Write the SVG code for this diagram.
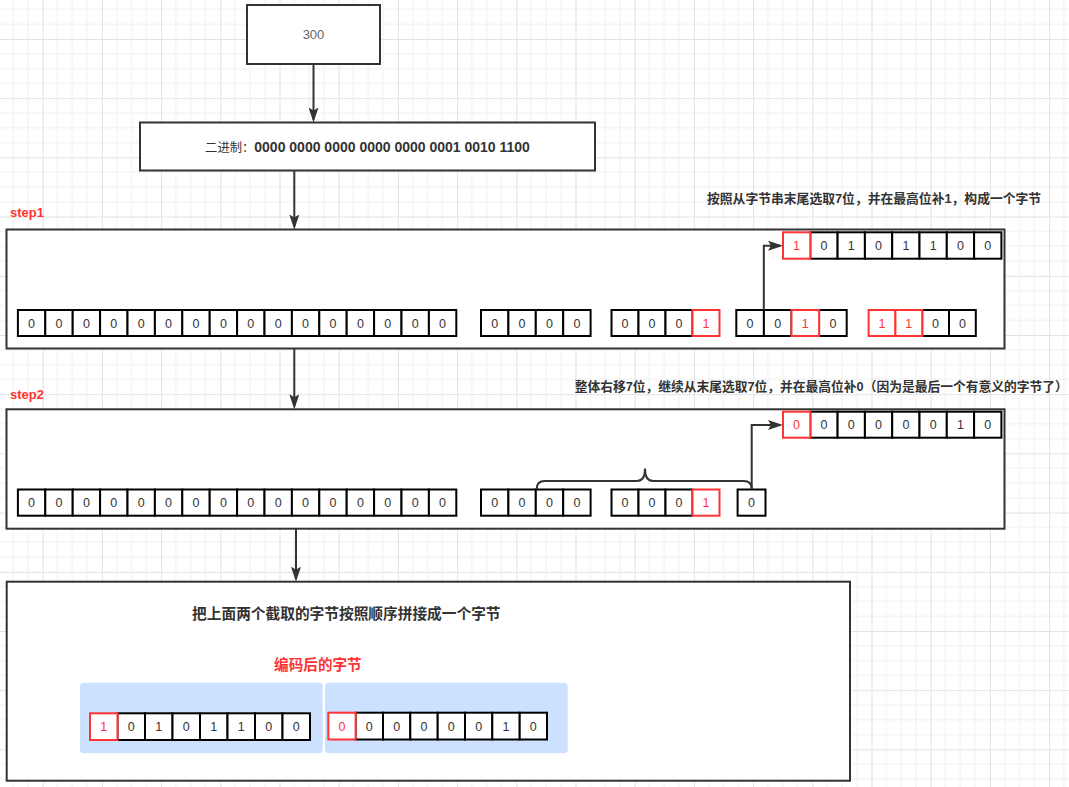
<svg xmlns="http://www.w3.org/2000/svg" width="1069" height="787" viewBox="0 0 1069 787">
<defs>
<style>
.box{fill:#fff;stroke:#333;stroke-width:2}
.c{fill:#fff;stroke:#000;stroke-width:2}
.r{fill:#fff;stroke:#ff3333;stroke-width:2}
.t{font-family:"Liberation Sans","Noto Sans CJK SC",sans-serif;font-size:12.5px;fill:#333;text-anchor:middle}
.tr{font-family:"Liberation Sans","Noto Sans CJK SC",sans-serif;font-size:12.5px;fill:#ff3333;text-anchor:middle}
.lbl{font-family:"Liberation Sans","Noto Sans CJK SC",sans-serif;font-weight:bold;fill:#333}
.step{font-family:"Liberation Sans",sans-serif;font-weight:bold;font-size:13px;fill:#ff3333}
.ln{fill:none;stroke:#333;stroke-width:2}
.panel{fill:#cce0ff}
</style>
<pattern id="grid" x="42.7" y="39" width="59.2" height="59.2" patternUnits="userSpaceOnUse">
<path d="M14.8,0 V59.2 M29.6,0 V59.2 M44.4,0 V59.2 M0,14.8 H59.2 M0,29.6 H59.2 M0,44.4 H59.2" stroke="#efefef" stroke-width="1" fill="none"/>
<path d="M0.5,0 V59.2 M0,0.5 H59.2" stroke="#e2e2e2" stroke-width="1" fill="none"/>
</pattern>
<marker id="ah" markerWidth="15" markerHeight="10" refX="12" refY="5" orient="auto" markerUnits="userSpaceOnUse">
<path d="M0,0 L15,5 L0,10 L3,5 z" fill="#333"/>
</marker>
</defs>
<rect x="0" y="0" width="1069" height="787" fill="#fff"/>
<rect x="0" y="0" width="1069" height="787" fill="url(#grid)"/>

<g id="node-300">
<rect class="box" x="247" y="5" width="133" height="59"/>
<text x="313.5" y="39" font-family="Liberation Sans, sans-serif" font-size="13" fill="#666" text-anchor="middle">300</text>
</g>

<g id="node-binary">
<rect class="box" x="140" y="122.5" width="455" height="48"/>
<text x="367.5" y="151.5" text-anchor="middle" class="lbl"><tspan font-size="12.3" font-weight="normal">二进制：</tspan><tspan font-size="14">0000 0000 0000 0000 0000 0001 0010 1100</tspan></text>
</g>

<g id="label-step1">
<text class="step" x="10" y="216.5">step1</text>
<text class="lbl" x="707" y="203" font-size="12.8">按照从字节串末尾选取7位，并在最高位补1，构成一个字节</text>
</g>

<g id="node-step1">
<rect class="box" x="6.5" y="229.5" width="998" height="119"/>
<g>
<rect class="c" x="810.3" y="232.3" width="27.3" height="26.4"/><rect class="c" x="837.6" y="232.3" width="27.3" height="26.4"/><rect class="c" x="864.9" y="232.3" width="27.3" height="26.4"/><rect class="c" x="892.2" y="232.3" width="27.3" height="26.4"/><rect class="c" x="919.5" y="232.3" width="27.3" height="26.4"/><rect class="c" x="946.8" y="232.3" width="27.3" height="26.4"/><rect class="c" x="974.1" y="232.3" width="27.3" height="26.4"/>
<rect class="r" x="783" y="232.3" width="27.3" height="26.4"/>
<text class="tr" x="796.6" y="250">1</text><text class="t" x="824" y="250">0</text><text class="t" x="851.3" y="250">1</text><text class="t" x="878.6" y="250">0</text><text class="t" x="905.9" y="250">1</text><text class="t" x="933.2" y="250">1</text><text class="t" x="960.5" y="250">0</text><text class="t" x="987.8" y="250">0</text>
</g>
<g>
<rect class="c" x="17.9" y="310" width="27.4" height="26"/><rect class="c" x="45.3" y="310" width="27.4" height="26"/><rect class="c" x="72.7" y="310" width="27.4" height="26"/><rect class="c" x="100.1" y="310" width="27.4" height="26"/><rect class="c" x="127.5" y="310" width="27.4" height="26"/><rect class="c" x="154.9" y="310" width="27.4" height="26"/><rect class="c" x="182.3" y="310" width="27.4" height="26"/><rect class="c" x="209.7" y="310" width="27.4" height="26"/><rect class="c" x="237.1" y="310" width="27.4" height="26"/><rect class="c" x="264.5" y="310" width="27.4" height="26"/><rect class="c" x="291.9" y="310" width="27.4" height="26"/><rect class="c" x="319.3" y="310" width="27.4" height="26"/><rect class="c" x="346.7" y="310" width="27.4" height="26"/><rect class="c" x="374.1" y="310" width="27.4" height="26"/><rect class="c" x="401.5" y="310" width="27.4" height="26"/><rect class="c" x="428.9" y="310" width="27.4" height="26"/>
<text class="t" x="31.6" y="327.5">0</text><text class="t" x="59" y="327.5">0</text><text class="t" x="86.4" y="327.5">0</text><text class="t" x="113.8" y="327.5">0</text><text class="t" x="141.2" y="327.5">0</text><text class="t" x="168.6" y="327.5">0</text><text class="t" x="196" y="327.5">0</text><text class="t" x="223.4" y="327.5">0</text><text class="t" x="250.8" y="327.5">0</text><text class="t" x="278.2" y="327.5">0</text><text class="t" x="305.6" y="327.5">0</text><text class="t" x="333" y="327.5">0</text><text class="t" x="360.4" y="327.5">0</text><text class="t" x="387.8" y="327.5">0</text><text class="t" x="415.2" y="327.5">0</text><text class="t" x="442.6" y="327.5">0</text>
</g>
<g>
<rect class="c" x="481" y="310" width="27.4" height="26"/><rect class="c" x="508.4" y="310" width="27.4" height="26"/><rect class="c" x="535.8" y="310" width="27.4" height="26"/><rect class="c" x="563.2" y="310" width="27.4" height="26"/>
<text class="t" x="494.7" y="327.5">0</text><text class="t" x="522.1" y="327.5">0</text><text class="t" x="549.5" y="327.5">0</text><text class="t" x="576.9" y="327.5">0</text>
</g>
<g>
<rect class="c" x="611.5" y="310" width="27" height="26"/><rect class="c" x="638.5" y="310" width="27" height="26"/><rect class="c" x="665.5" y="310" width="27" height="26"/>
<rect class="r" x="692.5" y="310" width="27" height="26"/>
<text class="t" x="625" y="327.5">0</text><text class="t" x="652" y="327.5">0</text><text class="t" x="679" y="327.5">0</text><text class="tr" x="706" y="327.5">1</text>
</g>
<g>
<rect class="c" x="736.3" y="310" width="27.6" height="26"/><rect class="c" x="763.9" y="310" width="27.6" height="26"/><rect class="c" x="819.1" y="310" width="27.6" height="26"/>
<rect class="r" x="791.5" y="310" width="27.6" height="26"/>
<text class="t" x="750.1" y="327.5">0</text><text class="t" x="777.7" y="327.5">0</text><text class="tr" x="805.3" y="327.5">1</text><text class="t" x="832.9" y="327.5">0</text>
</g>
<g>
<rect class="c" x="922.2" y="310" width="26.8" height="26"/><rect class="c" x="949" y="310" width="26.8" height="26"/>
<rect class="r" x="868.6" y="310" width="26.8" height="26"/><rect class="r" x="895.4" y="310" width="26.8" height="26"/>
<text class="tr" x="882" y="327.5">1</text><text class="tr" x="908.8" y="327.5">1</text><text class="t" x="935.6" y="327.5">0</text><text class="t" x="962.4" y="327.5">0</text>
</g>
</g>

<g id="label-step2">
<text class="step" x="10" y="399">step2</text>
<text class="lbl" x="574.7" y="390.5" font-size="12.75">整体右移7位，继续从末尾选取7位，并在最高位补0（因为是最后一个有意义的字节了）</text>
</g>

<g id="node-step2">
<rect class="box" x="6.5" y="409.3" width="998" height="119.4"/>
<g>
<rect class="c" x="810.3" y="411.7" width="27.3" height="26"/><rect class="c" x="837.6" y="411.7" width="27.3" height="26"/><rect class="c" x="864.9" y="411.7" width="27.3" height="26"/><rect class="c" x="892.2" y="411.7" width="27.3" height="26"/><rect class="c" x="919.5" y="411.7" width="27.3" height="26"/><rect class="c" x="946.8" y="411.7" width="27.3" height="26"/><rect class="c" x="974.1" y="411.7" width="27.3" height="26"/>
<rect class="r" x="783" y="411.7" width="27.3" height="26"/>
<text class="tr" x="796.6" y="429.2">0</text><text class="t" x="824" y="429.2">0</text><text class="t" x="851.3" y="429.2">0</text><text class="t" x="878.6" y="429.2">0</text><text class="t" x="905.9" y="429.2">0</text><text class="t" x="933.2" y="429.2">0</text><text class="t" x="960.5" y="429.2">1</text><text class="t" x="987.8" y="429.2">0</text>
</g>
<g>
<rect class="c" x="17.9" y="489.5" width="27.4" height="26.2"/><rect class="c" x="45.3" y="489.5" width="27.4" height="26.2"/><rect class="c" x="72.7" y="489.5" width="27.4" height="26.2"/><rect class="c" x="100.1" y="489.5" width="27.4" height="26.2"/><rect class="c" x="127.5" y="489.5" width="27.4" height="26.2"/><rect class="c" x="154.9" y="489.5" width="27.4" height="26.2"/><rect class="c" x="182.3" y="489.5" width="27.4" height="26.2"/><rect class="c" x="209.7" y="489.5" width="27.4" height="26.2"/><rect class="c" x="237.1" y="489.5" width="27.4" height="26.2"/><rect class="c" x="264.5" y="489.5" width="27.4" height="26.2"/><rect class="c" x="291.9" y="489.5" width="27.4" height="26.2"/><rect class="c" x="319.3" y="489.5" width="27.4" height="26.2"/><rect class="c" x="346.7" y="489.5" width="27.4" height="26.2"/><rect class="c" x="374.1" y="489.5" width="27.4" height="26.2"/><rect class="c" x="401.5" y="489.5" width="27.4" height="26.2"/><rect class="c" x="428.9" y="489.5" width="27.4" height="26.2"/>
<text class="t" x="31.6" y="507">0</text><text class="t" x="59" y="507">0</text><text class="t" x="86.4" y="507">0</text><text class="t" x="113.8" y="507">0</text><text class="t" x="141.2" y="507">0</text><text class="t" x="168.6" y="507">0</text><text class="t" x="196" y="507">0</text><text class="t" x="223.4" y="507">0</text><text class="t" x="250.8" y="507">0</text><text class="t" x="278.2" y="507">0</text><text class="t" x="305.6" y="507">0</text><text class="t" x="333" y="507">0</text><text class="t" x="360.4" y="507">0</text><text class="t" x="387.8" y="507">0</text><text class="t" x="415.2" y="507">0</text><text class="t" x="442.6" y="507">0</text>
</g>
<g>
<rect class="c" x="481" y="489.5" width="27.4" height="26.2"/><rect class="c" x="508.4" y="489.5" width="27.4" height="26.2"/><rect class="c" x="535.8" y="489.5" width="27.4" height="26.2"/><rect class="c" x="563.2" y="489.5" width="27.4" height="26.2"/>
<text class="t" x="494.7" y="507">0</text><text class="t" x="522.1" y="507">0</text><text class="t" x="549.5" y="507">0</text><text class="t" x="576.9" y="507">0</text>
</g>
<g>
<rect class="c" x="611.5" y="489.5" width="27" height="26.2"/><rect class="c" x="638.5" y="489.5" width="27" height="26.2"/><rect class="c" x="665.5" y="489.5" width="27" height="26.2"/>
<rect class="r" x="692.5" y="489.5" width="27" height="26.2"/>
<text class="t" x="625" y="507">0</text><text class="t" x="652" y="507">0</text><text class="t" x="679" y="507">0</text><text class="tr" x="706" y="507">1</text>
</g>
<g>
<rect class="c" x="737.6" y="489.5" width="27.9" height="26.2"/>
<text class="t" x="751.5" y="507">0</text>
</g>
<path class="ln" d="M536.7,489 Q536.7,481 544.7,481 L637,481 Q645,481 645,468.5 Q645,481 653,481 L743.7,481 Q751.7,481 751.7,489"/>
</g>

<g id="node-result">
<rect class="box" x="6.7" y="581.7" width="843.3" height="199"/>
<text class="lbl" x="346.3" y="618.5" font-size="14.7" text-anchor="middle">把上面两个截取的字节按照顺序拼接成一个字节</text>
<text x="317.9" y="670" font-family="Liberation Sans, Noto Sans CJK SC, sans-serif" font-weight="bold" font-size="14.6" fill="#ff3333" text-anchor="middle">编码后的字节</text>
<rect class="panel" x="80" y="682.7" width="242.7" height="70.6" rx="4"/>
<rect class="panel" x="325" y="682.7" width="242.7" height="70.6" rx="4"/>
<g>
<rect class="c" x="117.5" y="713.3" width="27.5" height="26.7"/><rect class="c" x="145" y="713.3" width="27.5" height="26.7"/><rect class="c" x="172.5" y="713.3" width="27.5" height="26.7"/><rect class="c" x="200" y="713.3" width="27.5" height="26.7"/><rect class="c" x="227.5" y="713.3" width="27.5" height="26.7"/><rect class="c" x="255" y="713.3" width="27.5" height="26.7"/><rect class="c" x="282.5" y="713.3" width="27.5" height="26.7"/>
<rect class="r" x="90" y="713.3" width="27.5" height="26.7"/>
<text class="tr" x="103.8" y="731">1</text><text class="t" x="131.3" y="731">0</text><text class="t" x="158.8" y="731">1</text><text class="t" x="186.3" y="731">0</text><text class="t" x="213.8" y="731">1</text><text class="t" x="241.3" y="731">1</text><text class="t" x="268.8" y="731">0</text><text class="t" x="296.3" y="731">0</text>
</g>
<g>
<rect class="c" x="355.6" y="712.7" width="27.4" height="26.8"/><rect class="c" x="383" y="712.7" width="27.3" height="26.8"/><rect class="c" x="410.3" y="712.7" width="27.4" height="26.8"/><rect class="c" x="437.7" y="712.7" width="27.3" height="26.8"/><rect class="c" x="465" y="712.7" width="27.3" height="26.8"/><rect class="c" x="492.3" y="712.7" width="27.4" height="26.8"/><rect class="c" x="519.7" y="712.7" width="27.3" height="26.8"/>
<rect class="r" x="328.3" y="712.7" width="27.3" height="26.8"/>
<text class="tr" x="342" y="730.5">0</text><text class="t" x="369.3" y="730.5">0</text><text class="t" x="396.7" y="730.5">0</text><text class="t" x="424" y="730.5">0</text><text class="t" x="451.3" y="730.5">0</text><text class="t" x="478.7" y="730.5">0</text><text class="t" x="506" y="730.5">1</text><text class="t" x="533.3" y="730.5">0</text>
</g>
</g>

<g id="connectors">
<path class="ln" d="M313.5,64 V119.5" marker-end="url(#ah)"/>
<path class="ln" d="M294.3,170.5 V226.5" marker-end="url(#ah)"/>
<path class="ln" d="M294.3,348.5 V406.3" marker-end="url(#ah)"/>
<path class="ln" d="M296,528.7 V578.7" marker-end="url(#ah)"/>
<path class="ln" d="M763.8,310 V245.7 H780" marker-end="url(#ah)"/>
<path class="ln" d="M751.7,489 V425 H780" marker-end="url(#ah)"/>
</g>
</svg>
